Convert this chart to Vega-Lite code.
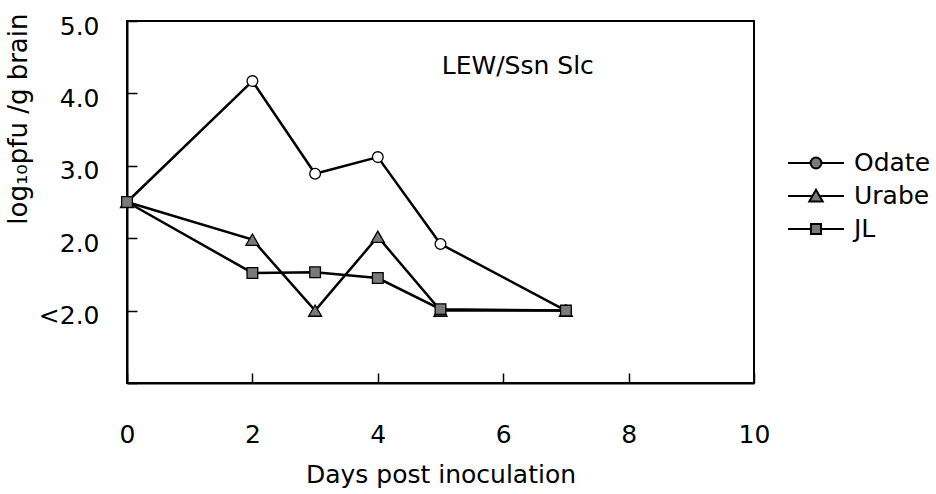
{
  "$schema": "https://vega.github.io/schema/vega-lite/v6.json",
  "width": 627,
  "height": 362,
  "autosize": "none",
  "padding": {"left": 127, "top": 21, "right": 182, "bottom": 111},
  "background": "white",
  "config": {
    "font": "DejaVu Sans",
    "view": {"stroke": "black", "strokeWidth": 2}
  },
  "data": {
    "values": [
      {"strain": "Odate", "day": 0, "value": 2.5},
      {"strain": "Odate", "day": 2, "value": 4.17},
      {"strain": "Odate", "day": 3, "value": 2.89},
      {"strain": "Odate", "day": 4, "value": 3.12},
      {"strain": "Odate", "day": 5, "value": 1.92},
      {"strain": "Odate", "day": 7, "value": 1.0},
      {"strain": "Urabe", "day": 0, "value": 2.5},
      {"strain": "Urabe", "day": 2, "value": 1.98},
      {"strain": "Urabe", "day": 3, "value": 1.0},
      {"strain": "Urabe", "day": 4, "value": 2.02},
      {"strain": "Urabe", "day": 5, "value": 1.0},
      {"strain": "Urabe", "day": 7, "value": 1.0},
      {"strain": "JL", "day": 0, "value": 2.5},
      {"strain": "JL", "day": 2, "value": 1.52},
      {"strain": "JL", "day": 3, "value": 1.53},
      {"strain": "JL", "day": 4, "value": 1.45},
      {"strain": "JL", "day": 5, "value": 1.02},
      {"strain": "JL", "day": 7, "value": 1.0}
    ]
  },
  "encoding": {
    "x": {
      "field": "day",
      "type": "quantitative",
      "scale": {"domain": [0, 10], "nice": false, "zero": false},
      "axis": {
        "title": "Days post inoculation",
        "values": [0, 2, 4, 6, 8, 10],
        "format": "d",
        "grid": false,
        "domainColor": "black",
        "domainWidth": 2,
        "tickColor": "black",
        "tickWidth": 1.5,
        "tickSize": -10,
        "labelPadding": 49,
        "labelFontSize": 25,
        "labelColor": "black",
        "labelFlush": false,
        "labelOverlap": false,
        "titleFontSize": 25,
        "titleFontWeight": "normal",
        "titleColor": "black",
        "titleY": 99,
        "titleBaseline": "alphabetic"
      }
    },
    "y": {
      "field": "value",
      "type": "quantitative",
      "scale": {"domain": [0, 5], "nice": false, "zero": false},
      "axis": {
        "title": "log₁₀pfu /g brain",
        "values": [0, 1, 2, 3, 4, 5],
        "labelExpr": "datum.value == 1 ? '<2.0' : (datum.value == 0 ? '' : format(datum.value, '.1f'))",
        "grid": false,
        "domainColor": "black",
        "domainWidth": 2,
        "tickColor": "black",
        "tickWidth": 1.5,
        "tickSize": -10,
        "labelPadding": 38,
        "labelOffset": 5,
        "labelFontSize": 25,
        "labelColor": "black",
        "labelFlush": false,
        "labelOverlap": false,
        "titleFontSize": 26,
        "titleFontWeight": "normal",
        "titleColor": "black",
        "titleX": -96,
        "titleY": -8,
        "titleAlign": "right",
        "titleBaseline": "bottom"
      }
    }
  },
  "layer": [
    {
      "mark": {"type": "line", "color": "black", "strokeWidth": 2.5},
      "encoding": {"detail": {"field": "strain"}}
    },
    {
      "mark": {"type": "point", "filled": true, "opacity": 1, "stroke": "black", "strokeWidth": 1.3},
      "encoding": {
        "shape": {
          "field": "strain",
          "type": "nominal",
          "scale": {"domain": ["Odate", "Urabe", "JL"], "range": ["circle", "triangle-up", "square"]},
          "legend": null
        },
        "fill": {
          "condition": {"test": "datum.strain === 'Odate'", "value": "white"},
          "value": "#7a7a7a"
        },
        "size": {
          "condition": {"test": "datum.strain === 'Urabe'", "value": 170},
          "value": 115
        }
      }
    },
    {
      "transform": [{"filter": "false"}],
      "mark": {"type": "point", "filled": true, "opacity": 1, "fill": "#7a7a7a", "stroke": "black", "strokeWidth": 2},
      "encoding": {
        "shape": {
          "field": "strain",
          "type": "nominal",
          "scale": {
            "domain": ["Odate", "Urabe", "JL"],
            "range": [
              "M-2,0H-0.39M0.39,0H2M0.39,0A0.39,0.39,0,1,1,-0.39,0A0.39,0.39,0,1,1,0.39,0Z",
              "M-2,0H-0.25M0.25,0H2M0,-0.45L0.48,0.4L-0.48,0.4Z",
              "M-2,0H-0.36M0.36,0H2M-0.36,-0.36H0.36V0.36H-0.36Z"
            ]
          },
          "legend": {
            "orient": "none",
            "legendX": 674,
            "legendY": 127,
            "title": null,
            "padding": 0,
            "symbolSize": 784,
            "symbolStrokeWidth": 2,
            "labelFontSize": 25,
            "labelColor": "black",
            "labelOffset": 23,
            "rowPadding": 5
          }
        }
      }
    },
    {
      "data": {"values": [{"day": 5.02, "value": 4.38, "label": "LEW/Ssn Slc"}]},
      "mark": {"type": "text", "align": "left", "baseline": "middle", "fontSize": 25, "color": "black"},
      "encoding": {"text": {"field": "label"}}
    }
  ],
  "resolve": {"scale": {"shape": "independent"}}
}
